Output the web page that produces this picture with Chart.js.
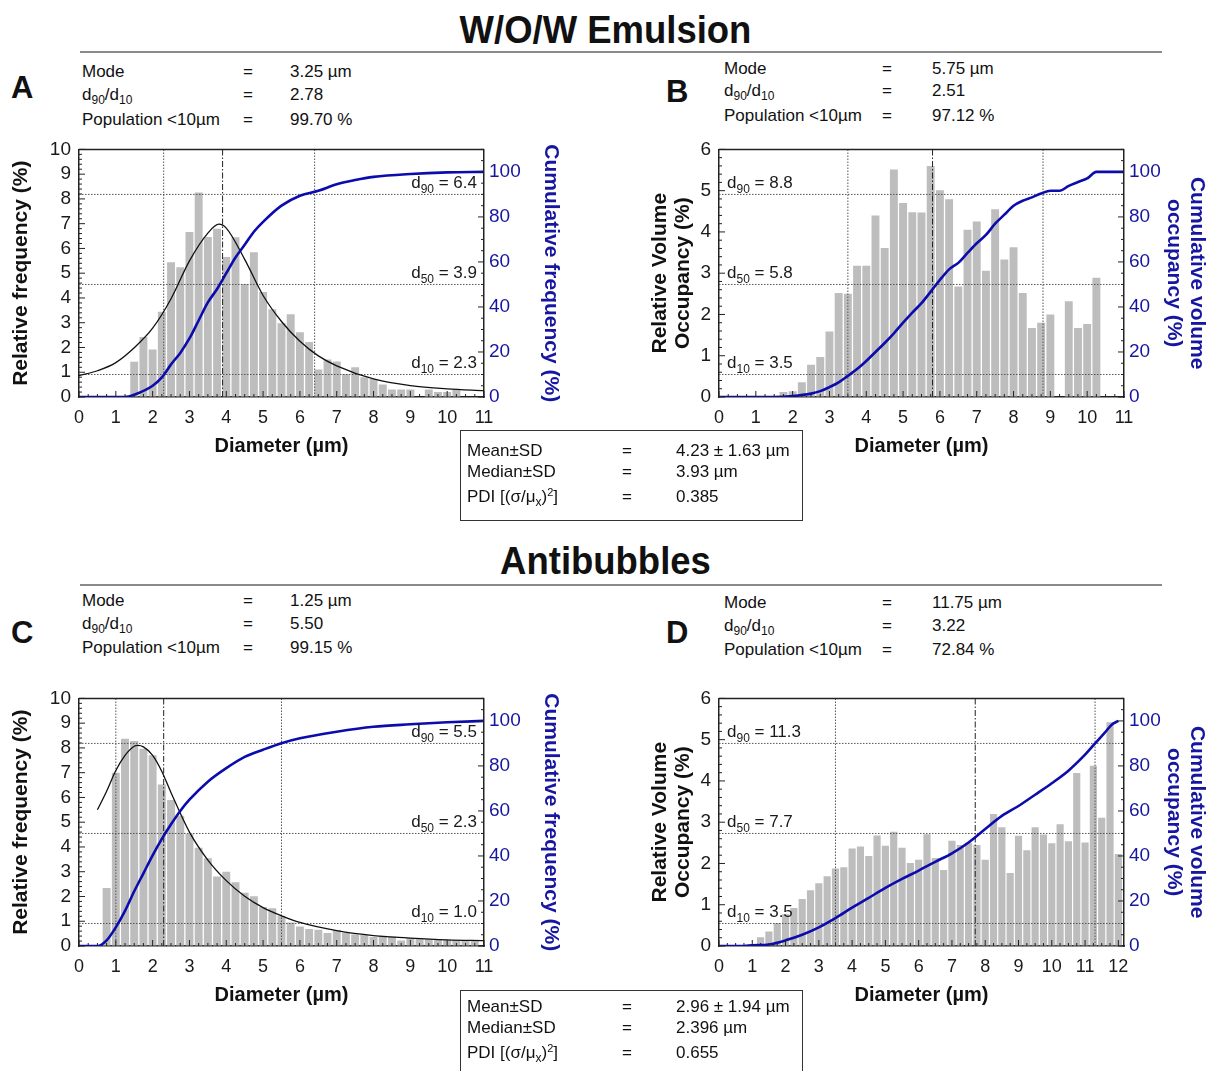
<!DOCTYPE html>
<html>
<head>
<meta charset="utf-8">
<script src="https://cdn.jsdelivr.net/npm/chart.js@4.4.0/dist/chart.umd.min.js"></script>
<style>
body { margin: 0; background: #fff; font-family: "Liberation Sans", Arial, sans-serif; color: #111; }
#page { position: relative; width: 1211px; height: 1071px; overflow: hidden; }
.abs { position: absolute; white-space: nowrap; }
.title { left: 0; width: 1211px; text-align: center; font-weight: bold; font-size: 38px; line-height: 40px; transform: scaleX(0.96); }
.rule { position: absolute; left: 80px; width: 1082px; height: 2px; background: #8a8a8a; }
.letter { font-weight: bold; font-size: 31px; line-height: 32px; }
.st { font-size: 17px; line-height: 20px; }
.st sub, .bx sub { font-size: 12px; vertical-align: -4px; line-height: 0; }
.st sup, .bx sup { font-size: 11px; vertical-align: 6px; line-height: 0; }
.box { position: absolute; border: 1.5px solid #333; }
.bx { font-size: 17px; line-height: 20px; }
canvas { position: absolute; }
</style>
</head>
<body>
<div id="page">
  <div class="abs title" style="top:10px">W/O/W Emulsion</div>
  <div class="rule" style="top:51px"></div>
  <div class="abs title" style="top:541px">Antibubbles</div>
  <div class="rule" style="top:584px"></div>

  <div class="abs letter" style="left:11px;top:72px">A</div>
  <div class="abs st" style="left:82px;top:62px">Mode</div>
  <div class="abs st" style="left:243px;top:62px">=</div>
  <div class="abs st" style="left:290px;top:62px">3.25 µm</div>
  <div class="abs st" style="left:82px;top:85px">d<sub>90</sub>/d<sub>10</sub></div>
  <div class="abs st" style="left:243px;top:85px">=</div>
  <div class="abs st" style="left:290px;top:85px">2.78</div>
  <div class="abs st" style="left:82px;top:110px">Population &lt;10µm</div>
  <div class="abs st" style="left:243px;top:110px">=</div>
  <div class="abs st" style="left:290px;top:110px">99.70 %</div>

  <div class="abs letter" style="left:666px;top:76px">B</div>
  <div class="abs st" style="left:724px;top:59px">Mode</div>
  <div class="abs st" style="left:882px;top:59px">=</div>
  <div class="abs st" style="left:932px;top:59px">5.75 µm</div>
  <div class="abs st" style="left:724px;top:81px">d<sub>90</sub>/d<sub>10</sub></div>
  <div class="abs st" style="left:882px;top:81px">=</div>
  <div class="abs st" style="left:932px;top:81px">2.51</div>
  <div class="abs st" style="left:724px;top:106px">Population &lt;10µm</div>
  <div class="abs st" style="left:882px;top:106px">=</div>
  <div class="abs st" style="left:932px;top:106px">97.12 %</div>

  <div class="abs letter" style="left:11px;top:617px">C</div>
  <div class="abs st" style="left:82px;top:591px">Mode</div>
  <div class="abs st" style="left:243px;top:591px">=</div>
  <div class="abs st" style="left:290px;top:591px">1.25 µm</div>
  <div class="abs st" style="left:82px;top:614px">d<sub>90</sub>/d<sub>10</sub></div>
  <div class="abs st" style="left:243px;top:614px">=</div>
  <div class="abs st" style="left:290px;top:614px">5.50</div>
  <div class="abs st" style="left:82px;top:638px">Population &lt;10µm</div>
  <div class="abs st" style="left:243px;top:638px">=</div>
  <div class="abs st" style="left:290px;top:638px">99.15 %</div>

  <div class="abs letter" style="left:666px;top:617px">D</div>
  <div class="abs st" style="left:724px;top:593px">Mode</div>
  <div class="abs st" style="left:882px;top:593px">=</div>
  <div class="abs st" style="left:932px;top:593px">11.75 µm</div>
  <div class="abs st" style="left:724px;top:616px">d<sub>90</sub>/d<sub>10</sub></div>
  <div class="abs st" style="left:882px;top:616px">=</div>
  <div class="abs st" style="left:932px;top:616px">3.22</div>
  <div class="abs st" style="left:724px;top:640px">Population &lt;10µm</div>
  <div class="abs st" style="left:882px;top:640px">=</div>
  <div class="abs st" style="left:932px;top:640px">72.84 %</div>

  <canvas id="chartA" width="565" height="332" style="left:0;top:130px"></canvas>
  <canvas id="chartB" width="571" height="332" style="left:640px;top:130px"></canvas>
  <canvas id="chartC" width="565" height="332" style="left:0;top:679px"></canvas>
  <canvas id="chartD" width="571" height="332" style="left:640px;top:679px"></canvas>

  <div class="box" style="left:460px;top:430px;width:341px;height:89px"></div>
  <div class="abs bx" style="left:467px;top:441px">Mean±SD</div>
  <div class="abs bx" style="left:622px;top:441px">=</div>
  <div class="abs bx" style="left:676px;top:441px">4.23 ± 1.63 µm</div>
  <div class="abs bx" style="left:467px;top:462px">Median±SD</div>
  <div class="abs bx" style="left:622px;top:462px">=</div>
  <div class="abs bx" style="left:676px;top:462px">3.93 µm</div>
  <div class="abs bx" style="left:467px;top:487px">PDI [(σ/μ<sub>x</sub>)<sup>2</sup>]</div>
  <div class="abs bx" style="left:622px;top:487px">=</div>
  <div class="abs bx" style="left:676px;top:487px">0.385</div>

  <div class="box" style="left:460px;top:990px;width:341px;height:100px"></div>
  <div class="abs bx" style="left:467px;top:997px">Mean±SD</div>
  <div class="abs bx" style="left:622px;top:997px">=</div>
  <div class="abs bx" style="left:676px;top:997px">2.96 ± 1.94 µm</div>
  <div class="abs bx" style="left:467px;top:1018px">Median±SD</div>
  <div class="abs bx" style="left:622px;top:1018px">=</div>
  <div class="abs bx" style="left:676px;top:1018px">2.396 µm</div>
  <div class="abs bx" style="left:467px;top:1043px">PDI [(σ/μ<sub>x</sub>)<sup>2</sup>]</div>
  <div class="abs bx" style="left:622px;top:1043px">=</div>
  <div class="abs bx" style="left:676px;top:1043px">0.655</div>
</div>

<script>
// ---- panel A : W/O/W emulsion, number distribution ----
const binsA = [1.5, 1.75, 2, 2.25, 2.5, 2.75, 3, 3.25, 3.5, 3.75, 4, 4.25, 4.5, 4.75, 5, 5.25, 5.5, 5.75,
               6, 6.25, 6.5, 6.75, 7, 7.25, 7.5, 7.75, 8, 8.25, 8.5, 8.75, 9, 9.25, 9.5, 9.75, 10, 10.25];
const freqA = [1.42, 2.42, 1.92, 3.44, 5.44, 5.24, 6.66, 8.26, 6.46, 6.8, 5.65, 6.45, 4.56, 5.85, 4.24, 3.54, 2.98, 3.34,
               2.62, 2.22, 1.11, 1.51, 1.43, 0.93, 1.2, 0.8, 0.73, 0.5, 0.3, 0.3, 0.3, 0, 0.3, 0.2, 0.2, 0.3];
const cumXA = [0, 1.25, 1.5, 2, 2.25, 2.5, 2.75, 3, 3.25, 3.5, 3.75, 4, 4.25, 4.5, 4.75, 5, 5.5, 6, 6.5, 7, 7.5, 8, 9, 10, 11];
const cumA  = [0, 0, 1, 5, 8.7, 14.5, 19.6, 26, 34, 42, 48, 55, 62, 67.6, 73.4, 77.8, 85, 89.4, 91.6, 94.5, 96.4, 97.8, 99.1, 99.8, 100];
const fitXA = [0, 0.5, 1, 1.5, 2, 2.5, 3, 3.5, 3.8, 4, 4.5, 5, 5.5, 6, 6.5, 7, 8, 9, 10, 11];
const fitA  = [0.86, 1.06, 1.39, 1.99, 2.78, 3.97, 5.5, 6.62, 6.98, 6.82, 5.56, 4.1, 3.05, 2.25, 1.66, 1.26, 0.73, 0.46, 0.33, 0.26];
const dA = [2.3, 3.9, 6.4];

// ---- panel B : W/O/W emulsion, volume distribution ----
const binsB = [1.75, 2, 2.25, 2.5, 2.75, 3, 3.25, 3.5, 3.75, 4, 4.25, 4.5, 4.75, 5, 5.25, 5.5, 5.75, 6,
               6.25, 6.5, 6.75, 7, 7.25, 7.5, 7.75, 8, 8.25, 8.5, 8.75, 9, 9.25, 9.5, 9.75, 10, 10.25];
const volB  = [0.12, 0.14, 0.36, 0.78, 0.97, 1.59, 2.52, 2.5, 3.18, 3.18, 4.4, 3.61, 5.51, 4.7, 4.48, 4.47, 5.6, 5.01,
               4.79, 2.68, 4.05, 4.25, 3.06, 4.55, 3.33, 3.63, 2.52, 1.67, 1.8, 2.0, 0, 2.32, 1.67, 1.77, 2.89];
const cumXB = [0, 1.5, 2, 2.5, 2.75, 3, 3.25, 3.5, 3.75, 4, 4.25, 4.5, 4.75, 5, 5.25, 5.5, 5.75, 6, 6.25, 6.5, 6.75,
               7, 7.25, 7.5, 7.75, 8, 8.25, 8.5, 8.75, 9, 9.25, 9.5, 9.75, 10, 10.25, 11];
const cumB  = [0, 0, 0.4, 1.5, 2.6, 4.4, 6.5, 9.4, 12.4, 16, 20, 24, 28.3, 33, 37.5, 41.7, 46.8, 52, 56.7, 59.6, 64,
               68.3, 72, 77, 81, 85, 87.2, 88.7, 90.4, 91.6, 91.6, 93.8, 95.5, 97.1, 100, 100];
const dB = [3.5, 5.8, 8.8];

// ---- panel C : antibubbles, number distribution ----
const binsC = [0.75, 1, 1.25, 1.5, 1.75, 2, 2.25, 2.5, 2.75, 3, 3.25, 3.5, 3.75, 4, 4.25, 4.5, 4.75, 5, 5.25, 5.5, 5.75,
               6, 6.25, 6.5, 6.75, 7, 7.25, 7.5, 7.75, 8, 8.25, 8.5, 8.75, 9, 9.25, 9.5, 9.75, 10, 10.25, 10.5, 10.75];
const freqC = [2.34, 7.0, 8.37, 8.28, 7.97, 7.7, 6.52, 5.9, 5.26, 4.53, 3.97, 3.54, 2.81, 3.0, 2.57, 2.15, 2.01, 1.58, 1.52, 1.22, 0.95,
               0.79, 0.69, 0.66, 0.52, 0.65, 0.53, 0.46, 0.44, 0.36, 0.41, 0.38, 0.22, 0.32, 0.29, 0.28, 0.26, 0.24, 0.22, 0.2, 0.22];
const cumXC = [0, 0.5, 0.75, 1, 1.25, 1.5, 1.75, 2, 2.25, 2.5, 2.75, 3, 3.5, 4, 4.5, 5, 5.5, 6, 7, 8, 9, 10, 11];
const cumC  = [0, 0, 2.5, 8.3, 15.6, 24.3, 32.3, 40.3, 47.6, 54.1, 60, 65, 73, 79, 84, 87.2, 90.1, 92.3, 95.2, 97.4, 98.5, 99.4, 100];
const fitXC = [0.5, 0.75, 1, 1.25, 1.5, 1.6, 1.75, 2, 2.25, 2.5, 3, 3.5, 4, 4.5, 5, 5.5, 6, 7, 8, 9, 10, 11];
const fitC  = [5.5, 6.25, 7.09, 7.7, 8.07, 8.1, 8.04, 7.7, 7.05, 6.19, 4.6, 3.47, 2.64, 2.01, 1.55, 1.22, 0.95, 0.62, 0.42, 0.32, 0.25, 0.22];
const dC = [1.0, 2.3, 5.5];

// ---- panel D : antibubbles, volume distribution ----
const binsD = [1, 1.25, 1.5, 1.75, 2, 2.25, 2.5, 2.75, 3, 3.25, 3.5, 3.75, 4, 4.25, 4.5, 4.75, 5, 5.25, 5.5, 5.75, 6, 6.25, 6.5,
               6.75, 7, 7.25, 7.5, 7.75, 8, 8.25, 8.5, 8.75, 9, 9.25, 9.5, 9.75, 10, 10.25, 10.5, 10.75, 11, 11.25, 11.5, 11.75, 12];
const volD  = [0.05, 0.21, 0.35, 0.56, 0.77, 0.92, 1.14, 1.35, 1.52, 1.69, 1.88, 1.91, 2.36, 2.41, 2.18, 2.68, 2.43, 2.77, 2.38, 2.01, 2.09, 2.71, 2.13,
               1.84, 2.55, 2.45, 2.5, 2.45, 2.09, 3.2, 2.88, 1.77, 2.67, 2.32, 2.88, 2.7, 2.49, 2.95, 2.54, 4.19, 2.51, 4.37, 3.11, 5.42, 2.23];
const cumXD = [0, 0.75, 1, 1.5, 2, 2.5, 3, 3.5, 4, 4.5, 5, 5.5, 6, 6.5, 7, 7.5, 8, 8.5, 9, 9.5, 10, 10.5, 11, 11.3, 11.6, 11.8, 12];
const cumD  = [0, 0, 0.3, 0.7, 2.5, 5, 8.3, 12.4, 17, 21.4, 25.8, 29.8, 33.5, 37.4, 41.2, 46, 52, 57.8, 62.2, 67.2, 72.3, 77.9, 85, 90, 94.9, 98.3, 100];
const dD = [3.5, 7.7, 11.3];

// ---- shared axis ticks ----
const xTicks11 = [0, 1, 2, 3, 4, 5, 6, 7, 8, 9, 10, 11];
const xTicks12 = [0, 1, 2, 3, 4, 5, 6, 7, 8, 9, 10, 11, 12];
const cumTicks = [0, 20, 40, 60, 80, 100];
const dLevels = [10, 50, 90];
const dNames = ['10', '50', '90'];

const BLUE = '#0c0cae';
const BLUE_TEXT = '#1616a0';
const FONT = '"Liberation Sans", Arial, sans-serif';

Chart.defaults.font.family = FONT;
Chart.defaults.color = '#1a1a1a';

function pts(xs, ys) {
    return xs.map((x, i) => ({ x: x, y: ys[i] }));
}

// draws the plot frame top, the inward major/minor ticks and the d-value labels
const decoPlugin = {
    id: 'deco',
    afterDatasetsDraw(chart, args, opts) {
        const { ctx, chartArea: a, scales } = chart;
        ctx.save();
        ctx.strokeStyle = '#222';
        ctx.lineWidth = 1.5;
        ctx.beginPath();
        ctx.moveTo(a.left, a.top);
        ctx.lineTo(a.right, a.top);
        ctx.stroke();

        ctx.lineWidth = 1;
        const drawTicks = (scale, minor, major, side) => {
            const n = Math.floor((scale.max - scale.min) / minor + 1e-6);
            for (let k = 0; k <= n; k++) {
                const v = scale.min + k * minor;
                const isMajor = Math.abs(v / major - Math.round(v / major)) < 1e-6;
                const len = isMajor ? 6 : 3;
                const p = scale.getPixelForValue(v);
                ctx.beginPath();
                if (side === 'bottom') { ctx.moveTo(p, a.bottom); ctx.lineTo(p, a.bottom - len); }
                if (side === 'left') { ctx.moveTo(a.left, p); ctx.lineTo(a.left + len, p); }
                if (side === 'right') { ctx.moveTo(a.right, p); ctx.lineTo(a.right - len, p); }
                ctx.stroke();
            }
        };
        drawTicks(scales.x, 0.25, 1, 'bottom');
        drawTicks(scales.y, 0.2, 1, 'left');
        drawTicks(scales.y2, 5, 20, 'right');

        ctx.fillStyle = '#1a1a1a';
        ctx.textBaseline = 'alphabetic';
        dLevels.forEach((lvl, i) => {
            const y = scales.y2.getPixelForValue(lvl);
            const rest = ' = ' + opts.d[i].toFixed(1);
            ctx.font = '17px ' + FONT;
            const wD = ctx.measureText('d').width;
            const wRest = ctx.measureText(rest).width;
            ctx.font = '12px ' + FONT;
            const wSub = ctx.measureText(dNames[i]).width;
            const total = wD + wSub + wRest;
            const x0 = opts.side === 'right' ? a.right - 7 - total : a.left + 8;
            ctx.font = '17px ' + FONT;
            ctx.fillText('d', x0, y - 6);
            ctx.fillText(rest, x0 + wD + wSub, y - 6);
            ctx.font = '12px ' + FONT;
            ctx.fillText(dNames[i], x0 + wD, y - 1);
        });
        ctx.restore();
    }
};

function refLines(d, xMax, yMax) {
    const sets = [];
    d.forEach((v, i) => {
        sets.push({
            type: 'line', yAxisID: 'y', order: 3,
            data: [{ x: v, y: 0 }, { x: v, y: yMax }],
            borderColor: i === 1 ? '#222' : '#555', borderWidth: 1,
            borderDash: i === 1 ? [6, 2, 1.5, 2] : [1.5, 1.5],
            pointRadius: 0
        });
    });
    dLevels.forEach(lvl => {
        sets.push({
            type: 'line', yAxisID: 'y2', order: 3,
            data: [{ x: 0, y: lvl }, { x: xMax, y: lvl }],
            borderColor: '#555', borderWidth: 1, borderDash: [1.5, 1.5],
            pointRadius: 0
        });
    });
    return sets;
}

function makePanel(id, p) {
    const datasets = [{
        type: 'bar', yAxisID: 'y', order: 5,
        data: pts(p.bins, p.vals),
        backgroundColor: '#bdbdbd',
        barPercentage: 0.86, categoryPercentage: 1
    }];
    datasets.push(...refLines(p.d, p.xMax, p.yMax));
    if (p.fitX) {
        datasets.push({
            type: 'line', yAxisID: 'y', order: 2,
            data: pts(p.fitX, p.fit),
            borderColor: '#111', borderWidth: 1.3, cubicInterpolationMode: 'monotone', pointRadius: 0
        });
    }
    datasets.push({
        type: 'line', yAxisID: 'y2', order: 1,
        data: pts(p.cumX, p.cum),
        borderColor: BLUE, borderWidth: 2.6, cubicInterpolationMode: 'monotone', pointRadius: 0
    });

    const border = { display: true, color: '#222', width: 1.5 };
    const grid = { display: true, drawOnChartArea: false, drawTicks: false };

    new Chart(document.getElementById(id), {
        type: 'line',
        data: { datasets: datasets },
        options: {
            responsive: false,
            animation: false,
            layout: { padding: { top: 15, left: 0, right: 0, bottom: 0 } },
            plugins: {
                legend: { display: false },
                tooltip: { enabled: false },
                deco: { d: p.d, side: p.side }
            },
            scales: {
                x: {
                    type: 'linear', min: 0, max: p.xMax, offset: false,
                    border: border, grid: grid,
                    ticks: { padding: 10, autoSkip: false, maxRotation: 0, font: { size: 18 }, color: '#1a1a1a' },
                    afterBuildTicks: s => { s.ticks = p.xTicks.map(v => ({ value: v })); },
                    afterFit: s => { s.height = 65; },
                    title: { display: true, text: 'Diameter (µm)', font: { size: 20, weight: 'bold' }, color: '#111', padding: { top: 0, bottom: 4 } }
                },
                y: {
                    position: 'left', min: 0, max: p.yMax,
                    border: border, grid: grid,
                    ticks: { stepSize: 1, autoSkip: false, padding: 8, font: { size: 19 }, color: '#1a1a1a' },
                    afterFit: s => { s.width = p.leftW; },
                    title: { display: true, text: p.yTitle, font: { size: 21, weight: 'bold', lineHeight: 1.1 }, color: '#111', padding: { top: p.yTitlePad, bottom: 0 } }
                },
                y2: {
                    position: 'right', min: 0, max: 110,
                    border: border, grid: grid,
                    ticks: { autoSkip: false, padding: 5, font: { size: 19 }, color: BLUE_TEXT },
                    afterBuildTicks: s => { s.ticks = cumTicks.map(v => ({ value: v })); },
                    afterFit: s => { s.width = p.rightW; },
                    title: { display: true, text: p.y2Title, font: { size: 21, weight: 'bold', lineHeight: 1.1 }, color: BLUE_TEXT, padding: { top: p.y2TitlePad, bottom: 0 } }
                }
            }
        },
        plugins: [decoPlugin]
    });
}

makePanel('chartA', {
    bins: binsA, vals: freqA, cumX: cumXA, cum: cumA, fitX: fitXA, fit: fitA, d: dA,
    xMax: 11, xTicks: xTicks11, yMax: 10, side: 'right', leftW: 79, rightW: 81,
    yTitle: 'Relative frequency (%)', yTitlePad: 10,
    y2Title: 'Cumulative frequency (%)', y2TitlePad: 3
});
makePanel('chartB', {
    bins: binsB, vals: volB, cumX: cumXB, cum: cumB, d: dB,
    xMax: 11, xTicks: xTicks11, yMax: 6, side: 'left', leftW: 79, rightW: 87,
    yTitle: ['Relative Volume', 'Occupancy (%)'], yTitlePad: 9,
    y2Title: ['Cumulative volume', 'occupancy (%)'], y2TitlePad: 3
});
makePanel('chartC', {
    bins: binsC, vals: freqC, cumX: cumXC, cum: cumC, fitX: fitXC, fit: fitC, d: dC,
    xMax: 11, xTicks: xTicks11, yMax: 10, side: 'right', leftW: 79, rightW: 81,
    yTitle: 'Relative frequency (%)', yTitlePad: 10,
    y2Title: 'Cumulative frequency (%)', y2TitlePad: 3
});
makePanel('chartD', {
    bins: binsD, vals: volD, cumX: cumXD, cum: cumD, d: dD,
    xMax: 12.17, xTicks: xTicks12, yMax: 6, side: 'left', leftW: 79, rightW: 87,
    yTitle: ['Relative Volume', 'Occupancy (%)'], yTitlePad: 9,
    y2Title: ['Cumulative volume', 'occupancy (%)'], y2TitlePad: 3
});
</script>
</body>
</html>
